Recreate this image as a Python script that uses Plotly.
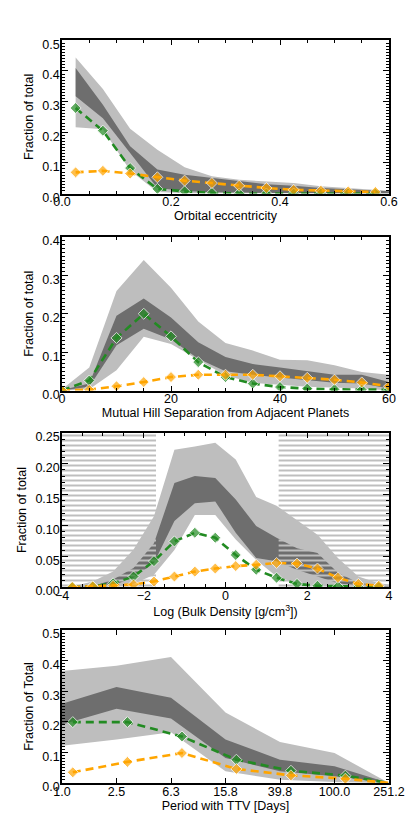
import plotly.graph_objects as go

FONT = "Liberation Sans, Arial, sans-serif"
LIGHT = "#bebebe"
DARK = "#6e6e6e"
GREEN = "#228b22"
ORANGE = "#ffa500"

# ---------------- Panel 1: orbital eccentricity ----------------
ecc_band_x = [0.025, 0.075, 0.125, 0.175, 0.225, 0.275, 0.325, 0.375, 0.425, 0.475, 0.525, 0.575, 0.625, 0.675]
ecc_light_hi = [0.444, 0.341, 0.211, 0.143, 0.086, 0.056, 0.045, 0.040, 0.034, 0.024, 0.018, 0.013, 0.008, 0.005]
ecc_dark_hi = [0.410, 0.290, 0.154, 0.078, 0.061, 0.050, 0.040, 0.030, 0.025, 0.018, 0.014, 0.010, 0.006, 0.004]
ecc_dark_lo = [0.317, 0.246, 0.132, 0.018, 0.008, 0.004, 0.003, 0.002, 0.001, 0.001, 0.0, 0.0, 0.0, 0.0]
ecc_light_lo = [0.216, 0.210, 0.075, 0.005, 0.001, 0.0, 0.0, 0.0, 0.0, 0.0, 0.0, 0.0, 0.0, 0.0]
ecc_x = [0.025, 0.075, 0.125, 0.175, 0.225, 0.275, 0.325, 0.375, 0.425, 0.475, 0.525, 0.575]
ecc_green = [0.279, 0.205, 0.083, 0.015, 0.007, 0.002, 0.0, 0.0, 0.0, 0.0, 0.0, 0.0]
ecc_orange = [0.069, 0.074, 0.065, 0.053, 0.042, 0.034, 0.025, 0.018, 0.012, 0.009, 0.007, 0.005]

# ---------------- Panel 2: mutual Hill separation ----------------
hill_x = [0, 5, 10, 15, 20, 25, 30, 35, 40, 45, 50, 55, 60]
hill_light_hi = [0.003, 0.060, 0.259, 0.340, 0.268, 0.180, 0.124, 0.104, 0.080, 0.079, 0.066, 0.048, 0.041]
hill_dark_hi = [0.001, 0.018, 0.195, 0.240, 0.190, 0.126, 0.087, 0.069, 0.060, 0.050, 0.041, 0.041, 0.022]
hill_dark_lo = [0.0, 0.010, 0.118, 0.161, 0.133, 0.083, 0.050, 0.041, 0.034, 0.028, 0.020, 0.018, 0.005]
hill_light_lo = [0.0, 0.003, 0.053, 0.140, 0.121, 0.080, 0.039, 0.020, 0.015, 0.010, 0.008, 0.005, 0.0]
hill_green = [0.0, 0.026, 0.137, 0.200, 0.141, 0.074, 0.035, 0.018, 0.009, 0.005, 0.003, 0.002, 0.002]
hill_orange = [0.0, 0.002, 0.011, 0.022, 0.035, 0.041, 0.041, 0.041, 0.037, 0.033, 0.028, 0.021, 0.011]

# ---------------- Panel 3: log bulk density ----------------
dens_band_x = [-3.75, -3.25, -2.75, -2.25, -1.75, -1.25, -0.75, -0.25, 0.25, 0.75, 1.25, 1.75, 2.25, 2.75, 3.25, 3.75, 4.25]
dens_light_hi = [0.001, 0.009, 0.025, 0.061, 0.115, 0.223, 0.228, 0.234, 0.207, 0.146, 0.132, 0.109, 0.085, 0.047, 0.017, 0.006, 0.002]
dens_dark_hi = [0.0, 0.001, 0.012, 0.031, 0.071, 0.169, 0.180, 0.177, 0.142, 0.099, 0.080, 0.063, 0.055, 0.023, 0.007, 0.002, 0.0]
dens_dark_lo = [0.0, 0.0, 0.003, 0.015, 0.039, 0.107, 0.136, 0.139, 0.088, 0.047, 0.042, 0.028, 0.017, 0.006, 0.002, 0.0, 0.0]
dens_light_lo = [0.0, 0.0, 0.0, 0.005, 0.020, 0.060, 0.117, 0.117, 0.077, 0.044, 0.017, 0.006, 0.002, 0.0, 0.0, 0.0, 0.0]
dens_x = [-3.75, -3.25, -2.75, -2.25, -1.75, -1.25, -0.75, -0.25, 0.25, 0.75, 1.25, 1.75, 2.25, 2.75, 3.25, 3.75]
dens_green = [0.0, 0.001, 0.006, 0.017, 0.042, 0.074, 0.088, 0.080, 0.052, 0.028, 0.015, 0.005, 0.002, 0.001, 0.0, 0.0]
dens_orange = [0.0, 0.001, 0.002, 0.004, 0.009, 0.017, 0.025, 0.030, 0.034, 0.036, 0.039, 0.038, 0.030, 0.015, 0.005, 0.002]
# excluded (hatched) density ranges
dens_hatch_lo = [-4.0, -1.7]
dens_hatch_hi = [1.3, 4.0]

# ---------------- Panel 4: period with TTV ----------------
ttv_band_x = [1.0, 2.512, 6.310, 15.85, 39.81, 100.0, 251.2]
ttv_light_hi = [0.366, 0.383, 0.412, 0.230, 0.134, 0.098, 0.0]
ttv_dark_hi = [0.259, 0.314, 0.279, 0.142, 0.076, 0.055, 0.0]
ttv_dark_lo = [0.191, 0.243, 0.211, 0.082, 0.038, 0.022, 0.0]
ttv_light_lo = [0.122, 0.142, 0.166, 0.038, 0.011, 0.003, 0.0]
ttv_x = [1.2, 3.02, 7.59, 19.05, 47.9, 120.2, 251.2]
ttv_green = [0.199, 0.199, 0.152, 0.076, 0.040, 0.024, 0.0]
ttv_orange = [0.035, 0.069, 0.098, 0.046, 0.025, 0.014, 0.0]
ttv_ticks = [1.0, 2.512, 6.310, 15.85, 39.81, 100.0, 251.2]
ttv_ticklabels = ["1.0", "2.5", "6.3", "15.8", "39.8", "100.0", "251.2"]

fig = go.Figure()
MS = 8.5


def band(xs, hi, lo, color, xa, ya):
    fig.add_trace(go.Scatter(
        x=list(xs) + list(xs)[::-1], y=list(hi) + list(lo)[::-1],
        fill="toself", fillcolor=color, line=dict(width=0), mode="lines",
        hoverinfo="skip", showlegend=False, xaxis=xa, yaxis=ya))


def series(xs, ys, color, xa, ya, sizes=None):
    if sizes is None:
        sizes = [MS] * len(xs)
    fig.add_trace(go.Scatter(
        x=xs, y=ys, mode="lines+markers",
        line=dict(color=color, width=2.6, dash="8px,5px"),
        marker=dict(symbol="diamond", size=sizes, color=color,
                    line=dict(color="white", width=[1 if s > 0 else 0 for s in sizes])),
        showlegend=False, xaxis=xa, yaxis=ya))


# panel 1
band(ecc_band_x, ecc_light_hi, ecc_light_lo, LIGHT, "x", "y")
band(ecc_band_x, ecc_dark_hi, ecc_dark_lo, DARK, "x", "y")
series(ecc_x, ecc_green, GREEN, "x", "y")
series(ecc_x, ecc_orange, ORANGE, "x", "y")

# panel 2
band(hill_x, hill_light_hi, hill_light_lo, LIGHT, "x2", "y2")
band(hill_x, hill_dark_hi, hill_dark_lo, DARK, "x2", "y2")
series(hill_x, hill_green, GREEN, "x2", "y2")
series(hill_x, hill_orange, ORANGE, "x2", "y2")

# panel 3
band(dens_band_x, dens_light_hi, dens_light_lo, LIGHT, "x3", "y3")
band(dens_band_x, dens_dark_hi, dens_dark_lo, DARK, "x3", "y3")
for rng in (dens_hatch_lo, dens_hatch_hi):
    fig.add_trace(go.Scatter(
        x=[rng[0], rng[1], rng[1], rng[0], rng[0]], y=[0, 0, 0.25, 0.25, 0],
        fill="toself", fillcolor="rgba(0,0,0,0)", mode="lines", line=dict(width=0),
        fillpattern=dict(shape="-", fgcolor=LIGHT, bgcolor="rgba(0,0,0,0)",
                         size=5, solidity=0.4, fillmode="replace"),
        hoverinfo="skip", showlegend=False, xaxis="x3", yaxis="y3"))
series(dens_x, dens_green, GREEN, "x3", "y3")
series(dens_x, dens_orange, ORANGE, "x3", "y3")

# panel 4
band(ttv_band_x, ttv_light_hi, ttv_light_lo, LIGHT, "x4", "y4")
band(ttv_band_x, ttv_dark_hi, ttv_dark_lo, DARK, "x4", "y4")
sz = [MS, MS, MS, MS, MS, MS, 0]
series(ttv_x, ttv_green, GREEN, "x4", "y4", sz)
series(ttv_x, ttv_orange, ORANGE, "x4", "y4", sz)

W, H = 415, 830
XD = [54 / W, 381 / W]


def ydom(top, bot):
    return [1 - bot / H, 1 - top / H]


FS = 12.5
tickfont = dict(family=FONT, size=FS, color="black")
titlefont = dict(family=FONT, size=FS, color="black")


def xax(anchor, rng, title, dtick, mdtick, **kw):
    d = dict(domain=XD, range=rng, anchor=anchor, showline=True, linecolor="black", linewidth=1.5,
             mirror="ticks", ticks="inside", ticklen=5, tickwidth=1, tickcolor="black",
             showgrid=False, zeroline=False, tickfont=tickfont, ticklabelstandoff=-4,
             title=dict(text=title, font=titlefont, standoff=2), automargin=False)
    if dtick is not None:
        d["dtick"] = dtick
        d["tick0"] = 0
    if mdtick is not None:
        d["minor"] = dict(dtick=mdtick, ticks="inside", ticklen=3, tickcolor="black", tickwidth=1, showgrid=False)
    d.update(kw)
    return d


def yax(anchor, dom, rng, title, dtick, mdtick, fmt):
    return dict(domain=dom, range=rng, anchor=anchor, showline=True, linecolor="black", linewidth=1.5,
                mirror="ticks", ticks="inside", ticklen=6, tickwidth=1, tickcolor="black",
                showgrid=False, zeroline=False, tickfont=tickfont, dtick=dtick, tick0=0,
                tickformat=fmt, ticklabelstandoff=-2, ticklabelshift=4,
                minor=dict(dtick=mdtick, ticks="inside", ticklen=3, tickcolor="black", tickwidth=1, showgrid=False),
                title=dict(text=title, font=titlefont, standoff=6), automargin=False)


fig.update_layout(
    width=W, height=H, margin=dict(l=0, r=0, t=0, b=0),
    paper_bgcolor="white", plot_bgcolor="white", showlegend=False,
    font=dict(family=FONT, size=FS, color="black"),
    xaxis=xax("y", [0, 0.6], "Orbital eccentricity", 0.2, 0.05, tickformat=".1f"),
    yaxis=yax("x", ydom(32.3, 185.5), [0, 0.5], "Fraction of total", 0.1, 0.01, ".1f"),
    xaxis2=xax("y2", [0, 60], "Mutual Hill Separation from Adjacent Planets", 20, 5),
    yaxis2=yax("x2", ydom(229, 382.5), [0, 0.4], "Fraction of total", 0.1, 0.01, ".1f"),
    xaxis3=xax("y3", [-4, 4], "Log (Bulk Density [g/cm<sup>3</sup>])", 2, 0.5),
    yaxis3=yax("x3", ydom(425, 579), [0, 0.25], "Fraction of total", 0.05, 0.01, ".2f"),
    xaxis4=xax("y4", [0, 2.4], "Period with TTV [Days]", None, None, type="log",
               tickvals=ttv_ticks, ticktext=ttv_ticklabels),
    yaxis4=yax("x4", ydom(622, 775), [0, 0.5], "Fraction of Total", 0.1, 0.01, ".1f"),
)

fig.write_html("out.html")
